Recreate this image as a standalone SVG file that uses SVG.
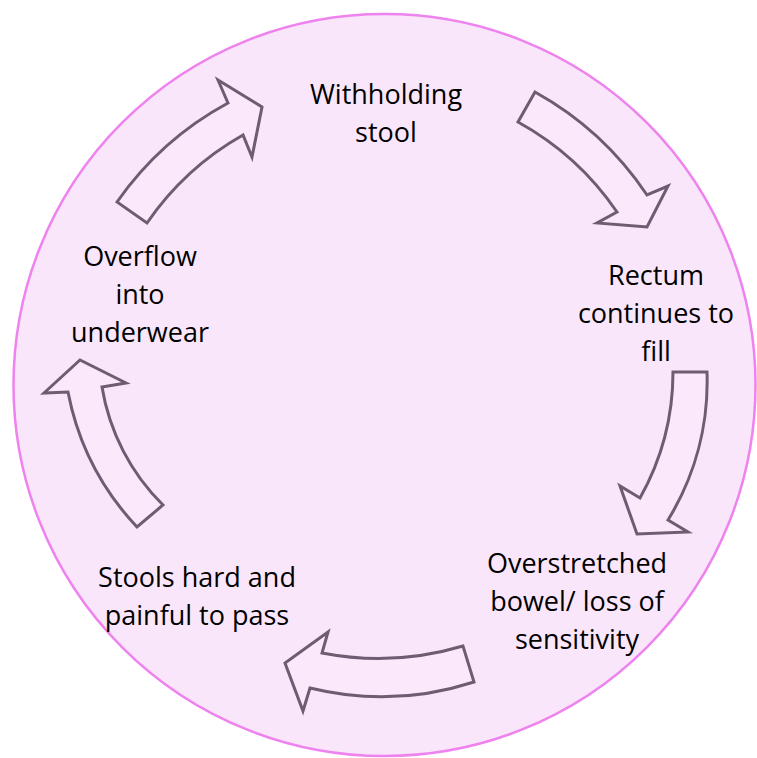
<svg xmlns="http://www.w3.org/2000/svg" width="757" height="758" viewBox="0 0 757 758">
  <style>
    .bg { fill: #ffffff; }
    .ring { fill: #fae6fa; stroke: #ee82ee; stroke-width: 2.5; }
    .arrow { fill: #fbe8fb; stroke: #6e5d72; stroke-width: 3; stroke-linejoin: miter; }
    .label { font-family: "Open Sans", "Liberation Sans", sans-serif; font-size: 27px; fill: #000000; text-anchor: middle; }
  </style>
  <rect class="bg" x="0" y="0" width="757" height="758"/>
  <circle class="ring" cx="384.5" cy="385" r="371"/>

  <g id="connectors">
    <path id="arrow-withholding" class="arrow" d="M117,202 A323,323 0 0 1 228,103 L218,80 L262,107 L252,157 L243,135 A288,288 0 0 0 147,223 Z"/>
    <path id="arrow-rectum" class="arrow" d="M535,92 A323,323 0 0 1 647,195 L668,186 L647,227 L597,223 L617,212 A288,288 0 0 0 518,122 Z"/>
    <path id="arrow-overstretched" class="arrow" d="M707,372 A265,265 0 0 1 668,520 L688,532 L637,534 L620,486 L640,498 A258,258 0 0 0 673,372 Z"/>
    <path id="arrow-stools" class="arrow" d="M474,682 A300,300 0 0 1 310,688 L303,711 L285,663 L328,632 L322,653 A296,296 0 0 0 463,646 Z"/>
    <path id="arrow-overflow" class="arrow" d="M137,527 A272,272 0 0 1 68,392 L44,393 L80,360 L126,383 L102,387 A215,215 0 0 0 163,505 Z"/>
  </g>

  <g id="node-withholding">
    <text class="label" x="386" y="104">Withholding</text>
    <text class="label" x="386" y="142">stool</text>
  </g>
  <g id="node-rectum">
    <text class="label" x="656" y="285">Rectum</text>
    <text class="label" x="656" y="323">continues to</text>
    <text class="label" x="656" y="361">fill</text>
  </g>
  <g id="node-overstretched">
    <text class="label" x="577" y="573">Overstretched</text>
    <text class="label" x="577" y="611">bowel/ loss of</text>
    <text class="label" x="577" y="649">sensitivity</text>
  </g>
  <g id="node-stools">
    <text class="label" x="197" y="587">Stools hard and</text>
    <text class="label" x="197" y="625">painful to pass</text>
  </g>
  <g id="node-overflow">
    <text class="label" x="140" y="266">Overflow</text>
    <text class="label" x="140" y="304">into</text>
    <text class="label" x="140" y="342">underwear</text>
  </g>
</svg>
